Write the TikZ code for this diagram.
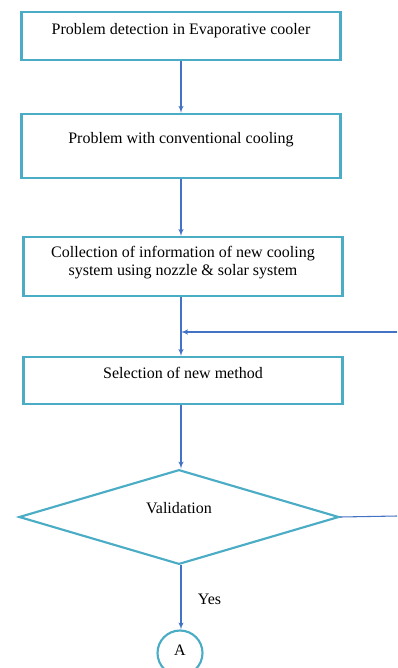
\documentclass[tikz,border=0pt]{standalone}
\usepackage{fontspec}
\setmainfont{Liberation Serif}
\usetikzlibrary{positioning,arrows,shapes.geometric}
\definecolor{boxline}{RGB}{75,172,198}
\definecolor{flowline}{RGB}{68,114,196}
\tikzset{
    block/.style = {
        draw=boxline,
        shape=rectangle,
        minimum width=239pt,
        line width=1.8pt,
        inner sep=0pt,
        align=center,
        font=\fontsize{12}{13.5}\selectfont
    },
    decision/.style = {
        draw=boxline,
        shape=diamond,
        shape aspect=3,
        minimum width=240pt,
        minimum height=71pt,
        line width=1.6pt,
        inner sep=0pt,
        font=\fontsize{12}{13.5}\selectfont
    },
    connector/.style = {
        draw=boxline,
        shape=circle,
        minimum size=33.75pt,
        line width=1.6pt,
        inner sep=0pt,
        font=\fontsize{12}{13.5}\selectfont
    },
    flow/.style = {
        draw=flowline,
        line width=0.8pt
    },
    >=latex',
}

\begin{document}
\begin{tikzpicture}[x=0.75pt,y=-0.75pt]
                \useasboundingbox (0,0) rectangle (397,668);

                \node[block, minimum height=36pt, text depth=11.2pt] (detect) at (181,36) {Problem detection in Evaporative cooler};
                \node[block, minimum height=48pt, text depth=12pt] (conv) at (181,146) {Problem with conventional cooling};
                \node[block, minimum height=44pt, text depth=8.9pt] (collect) at (183,266.5) {Collection of information of new cooling\\system using nozzle \& solar system};
                \node[block, minimum height=35pt, text depth=12pt] (select) at (183,380.5) {Selection of new method};
                \node[decision, text depth=14.2pt] (valid) at (179,517) {Validation};
                \node[connector, text depth=3.9pt] (pageA) at (180,653) {A};
                \node[font=\fontsize{12}{13.5}\selectfont, anchor=base] (yes) at (209.5,604) {Yes};

                \coordinate (loopin) at (397,332);
                \coordinate (loopout) at (397,516);

                \path[flow, ->] (detect.south -| conv.north) -- (conv.north);
                \path[flow, ->] (conv) -- (conv |- collect.north);
                \path[flow, ->] (conv |- collect.south) -- (conv |- select.north);
                \path[flow, ->] (conv |- select.south) -- (conv |- valid.north);
                \path[flow, ->] (conv |- valid.south) -- (conv |- pageA.north);
                \path[flow, ->] (loopin) -- (loopin -| conv);
                \path[flow] (valid.east) -- (loopout);
            \end{tikzpicture}
\end{document}
